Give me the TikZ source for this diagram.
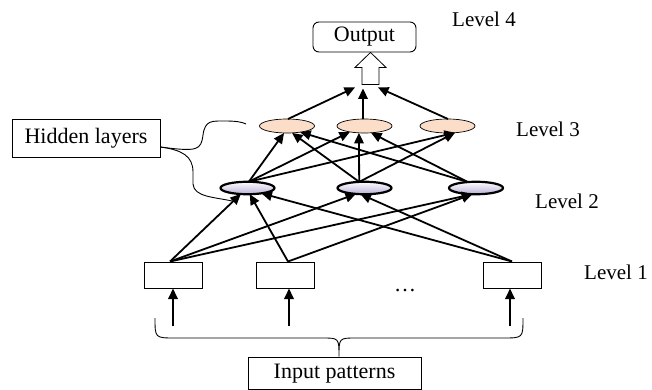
\documentclass[tikz,border=0pt]{standalone}
\usepackage{fontspec}
\setmainfont{Liberation Serif}
\usetikzlibrary{arrows.meta,shapes.geometric,calc}

\definecolor{peach}{RGB}{252,222,200}
\definecolor{lav}{RGB}{186,176,216}

\begin{document}
\begin{tikzpicture}[x=1pt,y=-1pt,
  every node/.style={font=\fontsize{22}{26}\selectfont},
  lbl/.style={font=\fontsize{21}{25}\selectfont, anchor=base west, inner sep=0pt},
  conn/.style={line width=1.8pt, -{Triangle[length=10.5pt,width=9.5pt]}},
  thinline/.style={line width=0.9pt},
  unit3/.style={ellipse, draw, line width=0.7pt, fill=peach,
    minimum width=55pt, minimum height=14pt, inner sep=0pt, outer sep=0pt},
  unit2/.style={ellipse, draw, line width=2.2pt, top color=white, bottom color=lav,
    minimum width=54pt, minimum height=12.5pt, inner sep=0pt, outer sep=0pt},
  inbox/.style={draw, line width=1pt, minimum width=58pt, minimum height=26pt, inner sep=0pt},
  tagbox/.style={draw, line width=0.9pt, inner sep=0pt}
]
\useasboundingbox (0,0) rectangle (652,390);

% ---- level 4: output ----
\node[tagbox, rounded corners=6pt, minimum width=103pt, minimum height=30pt] (out) at (364.5,37) {Output};

% ---- level 3 units ----
\node[unit3] (l3a) at (287,126) {};
\node[unit3] (l3b) at (364.5,126) {};
\node[unit3] (l3c) at (447.5,126) {};

% ---- level 2 units ----
\node[unit2] (l2a) at (247.5,188) {};
\node[unit2] (l2b) at (364.5,188) {};
\node[unit2] (l2c) at (476,188) {};

% ---- level 1 input cells ----
\node[inbox] (b1) at (173,275) {};
\node[inbox] (b2) at (285.5,275) {};
\node[inbox] (b3) at (512,275) {};
\node (dots) at (405,291) {\dots};

% ---- side boxes ----
\node[tagbox, minimum width=148pt, minimum height=38pt] (hid) at (86,138) {Hidden layers};
\node[tagbox, minimum width=173pt, minimum height=32.5pt] (inp) at (334.5,373.25) {Input patterns};

% ---- level labels ----
\node[lbl] (lev4) at (452,27) {Level 4};
\node[lbl] (lev3) at (516,137) {Level 3};
\node[lbl] (lev2) at (535,208) {Level 2};
\node[lbl] (lev1) at (584,279) {Level 1};

% ---- hollow arrow into the output box ----
\coordinate (hub) at ($(out.south)+(6,32)$);
\draw[line width=0.8pt, fill=white]
  ($(hub)+(-8.5,0)$) -- ($(hub)+(-8.5,-17)$) -- ($(hub)+(-15.5,-17)$)
  -- ($(out.south)+(6,0)$)
  -- ($(hub)+(15.5,-17)$) -- ($(hub)+(8.5,-17)$) -- ($(hub)+(8.5,0)$) -- cycle;

% ---- level 3 -> output ----
\draw[conn] (l3a.82) -- ($(hub)+(-15.5,3)$);
\draw[conn] (l3b.102) -- ($(hub)+(-7.5,4)$);
\draw[conn] (l3c.86) -- ($(hub)+(7.5,3)$);

% ---- level 2 -> level 3 ----
\draw[conn] (l2a.78) -- (l3a.-113);
\draw[conn] (l2a.78) -- (l3b.-158);
\draw[conn] (l2a.78) -- (l3c.-42);
\draw[conn] (l2b.131) -- (l3a.-54);
\draw[conn] (l2b.131) -- (l3b.-129);
\draw[conn] (l2b.131) -- (l3c.-42);
\draw[conn] (l2c.144) -- (l3a.-25);
\draw[conn] (l2c.144) -- (l3b.-46);

% ---- level 1 -> level 2 ----
\coordinate (o1) at ($(b1.north)+(-3,0)$);
\coordinate (o2) at ($(b2.north)+(2.5,0)$);
\coordinate (o3) at (b3.north);
\draw[conn] (o1) -- (l2a.-138);
\draw[conn] (o1) -- (l2b.-145);
\draw[conn] (o1) -- (l2c.-120);
\draw[conn] (o2) -- (l2a.-70);
\draw[conn] (o2) -- (l2c.-120);
\draw[conn] (o3) -- (l2a.-21);
\draw[conn] (o3) -- (l2b.-123);

% ---- input arrows ----
\coordinate (i1) at (173,326);
\coordinate (i2) at (289,326);
\coordinate (i3) at (510,326);
\draw[conn] (i1) -- (b1.south);
\draw[conn] (i2) -- ($(b2.south)+(3.5,0)$);
\draw[conn] (i3) -- ($(b3.south)+(-2,0)$);

% ---- brace gathering the inputs ----
\coordinate (bl) at (155,318);
\coordinate (br) at (523,318);
\coordinate (btip) at ($(inp.north)+(4.5,0)$);
\draw[thinline] (bl) .. controls (155,338) .. (175,338) -- (322,338)
  .. controls (339,338) .. (btip)
  .. controls (339,338) .. (356,338) -- (503,338)
  .. controls (523,338) .. (br);

% ---- callouts from the "Hidden layers" box ----
\coordinate (hs) at ($(hid.east)+(0,9)$);
\draw[thinline] (hs) .. controls (198,152) and (201,150) .. (203,135)
  .. controls (205,120) and (212,121) .. (225,121)
  .. controls (236,121) and (242,122) .. (246,124);
\draw[thinline] (hs) .. controls (182,150) and (193,156) .. (193,172)
  -- (193,184) .. controls (194,197) and (214,197) .. (232,201);
\end{tikzpicture}
\end{document}
